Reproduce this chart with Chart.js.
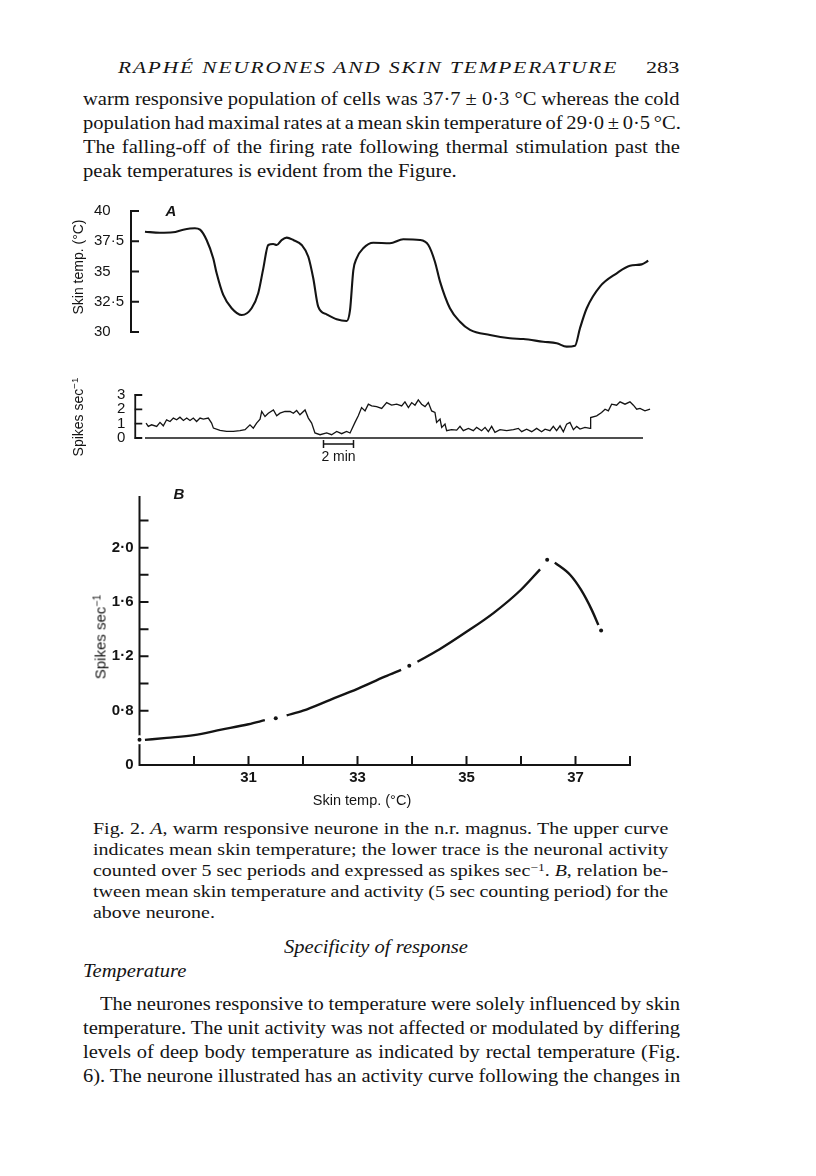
<!DOCTYPE html>
<html><head><meta charset="utf-8">
<script src="https://cdn.jsdelivr.net/npm/chart.js@4.4.0/dist/chart.umd.min.js"></script>
<style>
html,body{margin:0;padding:0;background:#fff;}
body{position:relative;width:816px;height:1176px;overflow:hidden;}
canvas{position:absolute;left:0;}
.ln{position:absolute;white-space:nowrap;transform-origin:0 0;color:#141414;line-height:1;font-family:'Liberation Serif','Times New Roman',serif;}
.ln sup{font-size:0.68em;line-height:0;vertical-align:0.5em;}
.lab{position:absolute;white-space:nowrap;transform:translate(-50%,-50%);font-family:'Liberation Sans',Arial,sans-serif;color:#141414;line-height:1;}
.rot{transform:translate(-50%,-50%) rotate(-90deg);}
.rot sup{font-size:0.7em;line-height:0;vertical-align:0.5em;}
</style></head><body>
<canvas id="cA" width="816" height="160" style="top:190px"></canvas>
<canvas id="cS" width="816" height="95" style="top:375px"></canvas>
<canvas id="cB" width="816" height="340" style="top:480px"></canvas>
<script>
// ---------- Panel A: skin temperature trace (time in min, temp in °C)
const tempTime  = [0,1.0,1.87,2.55,3.33,3.67,4.11,4.55,4.78,5.22,5.78,6.45,7.11,7.55,7.89,8.22,8.55,8.78,9.11,9.45,9.89,10.45,10.89,11.22,11.55,12.11,12.78,13.45,13.67,13.89,14.11,14.55,15.22,16.33,17.22,18.33,18.89,19.33,19.67,20.33,21.0,21.67,23.0,24.33,25.22,26.55,27.45,28.11,28.67,29.0,29.45,30.33,31.45,32.33,33.11,33.55];
const tempValue = [38.29,38.2,38.24,38.45,38.57,38.46,37.6,36.09,34.85,33.06,31.96,31.4,31.96,33.2,35.26,37.19,37.27,37.19,37.6,37.8,37.6,37.19,36.22,34.44,32.09,31.46,31.05,30.91,31.8,35.1,36.09,36.92,37.38,37.33,37.66,37.6,37.19,35.81,34.16,31.96,30.85,30.17,29.75,29.48,29.42,29.2,29.07,28.79,28.87,30.31,31.96,33.75,34.85,35.48,35.59,35.89];
const tempTicks = [30,32.5,35,37.5,40];
const tempTickLabels = ['30','32·5','35','37·5','40'];

// ---------- Panel A: spike rate trace (time in min, spikes/sec)
const spikeTime = [0.07,0.22,0.44,0.78,1.0,1.22,1.44,1.67,1.89,2.11,2.33,2.56,2.78,3.0,3.22,3.44,3.67,3.89,4.22,4.44,4.56,5.0,5.44,5.89,6.33,6.67,7.0,7.22,7.44,7.67,7.78,8.0,8.22,8.56,8.78,9.0,9.33,9.67,9.89,10.11,10.33,10.67,10.89,11.11,11.33,11.67,12.11,12.44,12.78,13.11,13.44,13.67,
 14.0,14.22,14.44,14.67,14.89,15.11,15.44,15.78,16.11,16.44,16.78,17.11,17.33,17.56,17.78,18.0,18.22,18.44,18.67,18.89,19.11,19.33,19.44,19.67,19.78,20.0,20.11,20.44,20.78,21.0,21.22,21.56,21.89,22.11,22.44,22.67,22.89,23.11,23.33,23.67,24.11,24.56,24.89,25.11,25.44,25.78,26.11,26.44,26.67,27.0,27.22,27.44,27.67,27.89,28.11,28.33,28.56,28.78,29.0,29.33,29.67,29.71,30.11,30.44,30.67,30.89,31.11,31.44,31.67,32.0,32.33,32.56,32.78,33.0,33.33,33.67];
const spikeRate = [1.04,0.81,0.92,0.81,1.09,0.85,1.27,1.15,1.39,1.27,1.45,1.22,1.39,1.22,1.39,1.15,1.39,1.32,1.39,1.04,0.69,0.53,0.46,0.46,0.51,0.58,0.92,0.69,1.04,1.32,1.85,1.5,1.73,1.96,1.55,1.73,1.85,1.85,1.73,1.92,1.62,1.96,1.39,1.04,0.35,0.23,0.35,0.23,0.46,0.3,0.46,0.35,
 1.09,1.55,2.12,1.89,2.36,2.24,2.19,2.06,2.47,2.29,2.36,2.24,2.52,2.12,2.47,2.29,2.66,2.36,2.19,2.47,1.89,1.78,1.09,1.32,0.74,0.97,0.51,0.58,0.55,0.81,0.51,0.67,0.51,0.74,0.51,0.74,0.44,0.81,0.39,0.58,0.51,0.58,0.67,0.44,0.62,0.44,0.67,0.44,0.62,0.51,0.81,0.51,0.85,0.44,0.97,1.09,0.58,0.81,0.62,0.74,0.67,1.43,1.55,1.78,2.01,1.89,2.36,2.29,2.52,2.36,2.52,2.29,2.01,2.06,1.89,2.01];
const spikeTicks = [0,1,2,3];
const spikeTickLabels = ['0','1','2','3'];
const spikeBaseline = [0, 33.2];       // time span of zero line (min)
const scaleBarStart = 11.9, scaleBarMinutes = 2;

// ---------- Panel B: spikes/sec vs skin temperature
const bCurveTemp = [29.1,29.5,30,30.5,31,31.3,null,31.7,32,32.5,33,33.5,33.8,null,34.1,34.5,35,35.5,36,36.35,null,36.62,36.9,37.1,37.3,37.42];
const bCurveRate = [0.585,0.6,0.62,0.66,0.7,0.73,null,0.765,0.8,0.88,0.96,1.05,1.10,null,1.16,1.25,1.38,1.52,1.69,1.84,null,1.89,1.80,1.69,1.54,1.43];
const bPointTemp = [29.0,31.5,33.95,36.48,37.47];
const bPointRate = [0.585,0.745,1.13,1.91,1.39];
const bYTicks = [0.4,0.8,1.0,1.2,1.4,1.6,1.8,2.0,2.2];
const bYTickLabels = ['0','0·8','','1·2','','1·6','','2·0',''];
const bXTicks = [29,30,31,32,33,34,35,36,37,38];
const bXTickLabels = ['','','31','','33','','35','','37',''];

Chart.defaults.font.family = "'Liberation Sans', Arial, sans-serif";
Chart.defaults.color = '#141414';
const INK = '#141414';

function framePlugin(draw){
  return {id:'frame', beforeDatasetsDraw(chart){ const c=chart.ctx; c.save(); c.strokeStyle=INK; c.fillStyle=INK; draw(chart,c,chart.scales.x,chart.scales.y); c.restore(); }};
}
const baseOpts = {responsive:false, animation:false, devicePixelRatio:1, events:[],
  plugins:{legend:{display:false}, tooltip:{enabled:false}}};

// Panel A temperature
new Chart(document.getElementById('cA'), {
  type:'line',
  data:{datasets:[{data:tempTime.map((t,i)=>({x:t,y:tempValue[i]})), borderColor:INK, borderWidth:2.1, pointRadius:0, cubicInterpolationMode:'monotone', clip:false}]},
  options:Object.assign({}, baseOpts, {
    layout:{padding:{left:94,right:155,top:21,bottom:18}},
    scales:{
      x:{type:'linear', display:false, min:-0.93, max:34.4},
      y:{type:'linear', min:30, max:40, afterFit(s){s.width=37;},
         afterBuildTicks(s){s.ticks=tempTicks.map(v=>({value:v}));},
         grid:{display:false, drawTicks:false}, border:{display:false},
         ticks:{autoSkip:false, crossAlign:'far', padding:0, font:{size:15}, color:INK, callback:(v,i)=>tempTickLabels[i]}}
    }}),
  plugins:[framePlugin((ch,c,x,y)=>{
    const x0=ch.chartArea.left; c.lineWidth=2; c.beginPath();
    c.moveTo(x0,y.getPixelForValue(tempTicks[0])); c.lineTo(x0,y.getPixelForValue(tempTicks[tempTicks.length-1]));
    tempTicks.forEach(v=>{const p=y.getPixelForValue(v); c.moveTo(x0-1,p); c.lineTo(x0+8,p);});
    c.stroke();
  })]
});

// Panel A spikes
new Chart(document.getElementById('cS'), {
  type:'line',
  data:{datasets:[{data:spikeTime.map((t,i)=>({x:t,y:spikeRate[i]})), borderColor:INK, borderWidth:1.3, pointRadius:0, tension:0, clip:false}]},
  options:Object.assign({}, baseOpts, {
    layout:{padding:{left:110.25,right:155,top:20,bottom:32}},
    scales:{
      x:{type:'linear', display:false, min:-0.65, max:34.4},
      y:{type:'linear', min:0, max:3, afterFit(s){s.width=25;},
         afterBuildTicks(s){s.ticks=spikeTicks.map(v=>({value:v}));},
         grid:{display:false, drawTicks:false}, border:{display:false},
         ticks:{autoSkip:false, crossAlign:'near', padding:10, font:{size:15, lineHeight:1}, color:INK, callback:(v,i)=>spikeTickLabels[i]}}
    }}),
  plugins:[framePlugin((ch,c,x,y)=>{
    const x0=ch.chartArea.left; c.lineWidth=1.8; c.beginPath();
    c.moveTo(x0,y.getPixelForValue(0)); c.lineTo(x0,y.getPixelForValue(3));
    spikeTicks.forEach(v=>{const p=y.getPixelForValue(v); c.moveTo(x0-1,p); c.lineTo(x0+7,p);});
    c.stroke();
    const yb=y.getPixelForValue(0);
    c.lineWidth=1.6; c.beginPath(); c.moveTo(x.getPixelForValue(spikeBaseline[0]),yb); c.lineTo(x.getPixelForValue(spikeBaseline[1]),yb); c.stroke();
    const bx0=x.getPixelForValue(scaleBarStart), bx1=x.getPixelForValue(scaleBarStart+scaleBarMinutes), by=yb+6;
    c.lineWidth=1.5; c.beginPath(); c.moveTo(bx0,by); c.lineTo(bx1,by);
    c.moveTo(bx0,by-4); c.lineTo(bx0,by+4); c.moveTo(bx1,by-4); c.lineTo(bx1,by+4); c.stroke();
    c.font="14px 'Liberation Sans', Arial, sans-serif"; c.textAlign='center'; c.textBaseline='middle';
    c.fillText(scaleBarMinutes+' min',(bx0+bx1)/2,by+13);
  })]
});

// Panel B
new Chart(document.getElementById('cB'), {
  type:'line',
  data:{datasets:[
    {data:bCurveTemp.map((t,i)=>({x:t,y:bCurveRate[i]})), borderColor:INK, borderWidth:2.4, pointRadius:0, cubicInterpolationMode:'monotone', spanGaps:false, clip:false, order:3},
    {type:'scatter', data:bPointTemp.map((t,i)=>({x:t,y:bPointRate[i]})), pointRadius:4.5, pointBackgroundColor:'#fff', pointBorderWidth:0, clip:false, order:2},
    {type:'scatter', data:bPointTemp.map((t,i)=>({x:t,y:bPointRate[i]})), pointRadius:2, pointBackgroundColor:INK, pointBorderWidth:0, clip:false, order:1}
  ]},
  options:Object.assign({}, baseOpts, {
    layout:{padding:{left:99.5,right:186,top:16,bottom:25}},
    scales:{
      x:{type:'linear', min:29, max:38, afterFit(s){s.height=30;},
         afterBuildTicks(s){s.ticks=bXTicks.map(v=>({value:v}));},
         grid:{display:false, drawTicks:false}, border:{display:false},
         ticks:{autoSkip:false, maxRotation:0, padding:4, font:{size:15, weight:'bold'}, color:INK, callback:(v,i)=>bXTickLabels[i]}},
      y:{type:'linear', min:0.4, max:2.38, afterFit(s){s.width=40;},
         afterBuildTicks(s){s.ticks=bYTicks.map(v=>({value:v}));},
         grid:{display:false, drawTicks:false}, border:{display:false},
         ticks:{autoSkip:false, crossAlign:'near', padding:6, font:{size:15, weight:'bold'}, color:INK, callback:(v,i)=>bYTickLabels[i]}}
    }}),
  plugins:[framePlugin((ch,c,x,y)=>{
    const a=ch.chartArea; c.lineWidth=2; c.beginPath();
    c.moveTo(a.left,a.top); c.lineTo(a.left,a.bottom); c.lineTo(a.right,a.bottom);
    bYTicks.slice(1).forEach(v=>{const p=y.getPixelForValue(v); c.moveTo(a.left,p); c.lineTo(a.left+9,p);});
    bXTicks.slice(1).forEach(v=>{const p=x.getPixelForValue(v); c.moveTo(p,a.bottom+1); c.lineTo(p,a.bottom-9);});
    c.stroke();
  })]
});

// ---------- page text
const labels = [
  {html:'Skin temp. (°C)', x:78, y:267, size:14, rot:true},
  {html:'Spikes sec<sup>−1</sup>', x:78, y:417, size:14, rot:true},
  {html:'Spikes sec<sup>−1</sup>', x:100, y:637, size:15, rot:true},
  {html:'Skin temp. (°C)', x:362, y:800, size:14.5},
  {html:'<i><b>A</b></i>', x:171, y:210, size:15},
  {html:'<i><b>B</b></i>', x:179, y:493, size:15}
];
labels.forEach(l=>{const d=document.createElement('div'); d.className='lab'+(l.rot?' rot':''); d.innerHTML=l.html; d.style.fontSize=l.size+'px'; d.style.left=l.x+'px'; d.style.top=l.y+'px'; document.body.appendChild(d);});

// g = paragraph group (shared glyph width); mode: 'fit' scale to span, 'just' justify, 'left' natural, 'center' centred on x0
const pageLines = [
  {g:'h', html:'<i>RAPHÉ NEURONES AND SKIN TEMPERATURE</i>', x0:118, x1:618, base:73, size:17, ls:1.5, mode:'fit'},
  {g:'n', html:'283', x0:646, x1:680, base:73, size:17, mode:'fit'},
  {g:'p1', html:'warm responsive population of cells was 37·7 ± 0·3 °C whereas the cold', x0:83, x1:680, base:105, size:19.5, mode:'just'},
  {g:'p1', html:'population had maximal rates at a mean skin temperature of 29·0 ± 0·5 °C.', x0:83, x1:681, base:129, size:19.5, mode:'just'},
  {g:'p1', html:'The falling-off of the firing rate following thermal stimulation past the', x0:83, x1:680, base:153, size:19.5, mode:'just'},
  {g:'p1', html:'peak temperatures is evident from the Figure.', x0:83, base:177, size:19.5, mode:'left'},
  {g:'cap', html:'Fig. 2. <i>A</i>, warm responsive neurone in the n.r. magnus. The upper curve', x0:93, x1:668, base:834, size:16, mode:'just'},
  {g:'cap', html:'indicates mean skin temperature; the lower trace is the neuronal activity', x0:93, x1:668, base:855, size:16, mode:'just'},
  {g:'cap', html:'counted over 5 sec periods and expressed as spikes sec<sup>−1</sup>. <i>B</i>, relation be-', x0:93, x1:668, base:876, size:16, mode:'just'},
  {g:'cap', html:'tween mean skin temperature and activity (5 sec counting period) for the', x0:93, x1:668, base:897, size:16, mode:'just'},
  {g:'cap', html:'above neurone.', x0:93, base:918, size:16, mode:'left'},
  {g:'p2', html:'<i>Specificity of response</i>', x0:376, base:953, size:19.5, mode:'center'},
  {g:'p2', html:'<i>Temperature</i>', x0:83, base:977, size:19.5, mode:'left'},
  {g:'p2', html:'The neurones responsive to temperature were solely influenced by skin', x0:100, x1:680, base:1010, size:19.5, mode:'just'},
  {g:'p2', html:'temperature. The unit activity was not affected or modulated by differing', x0:83, x1:680, base:1034, size:19.5, mode:'just'},
  {g:'p2', html:'levels of deep body temperature as indicated by rectal temperature (Fig.', x0:83, x1:680, base:1058, size:19.5, mode:'just'},
  {g:'p2', html:'6). The neurone illustrated has an activity curve following the changes in', x0:83, x1:680, base:1082, size:19.5, mode:'just'}
];
const els = pageLines.map(l=>{
  const d=document.createElement('div'); d.className='ln'; d.innerHTML=l.html;
  d.style.fontSize=l.size+'px'; if(l.ls) d.style.letterSpacing=l.ls+'px';
  d.style.left=l.x0+'px'; d.style.top=(l.base-0.8375*l.size)+'px';
  document.body.appendChild(d); return {l, d, w:d.offsetWidth};
});
// glyph width factor per group: mean of (target / natural) over justified lines; word spacing absorbs the rest
const groupK = {};
[...new Set(pageLines.map(l=>l.g))].forEach(g=>{
  const r = els.filter(e=>e.l.g===g && e.l.mode==='just').map(e=>(e.l.x1-e.l.x0)/e.w);
  groupK[g] = r.length ? r.reduce((a,b)=>a+b,0)/r.length : 1;
});
els.forEach(({l,d,w})=>{
  const k = groupK[l.g];
  if(l.mode==='fit'){ d.style.transform='scaleX('+((l.x1-l.x0)/w)+')'; return; }
  d.style.transform='scaleX('+k+')';
  if(l.mode==='just'){ const n=(d.textContent.match(/ /g)||[]).length; d.style.wordSpacing=(((l.x1-l.x0)/k - w)/n)+'px'; }
  else if(l.mode==='center'){ d.style.left=(l.x0-w*k/2)+'px'; }
});
</script>
</body></html>
